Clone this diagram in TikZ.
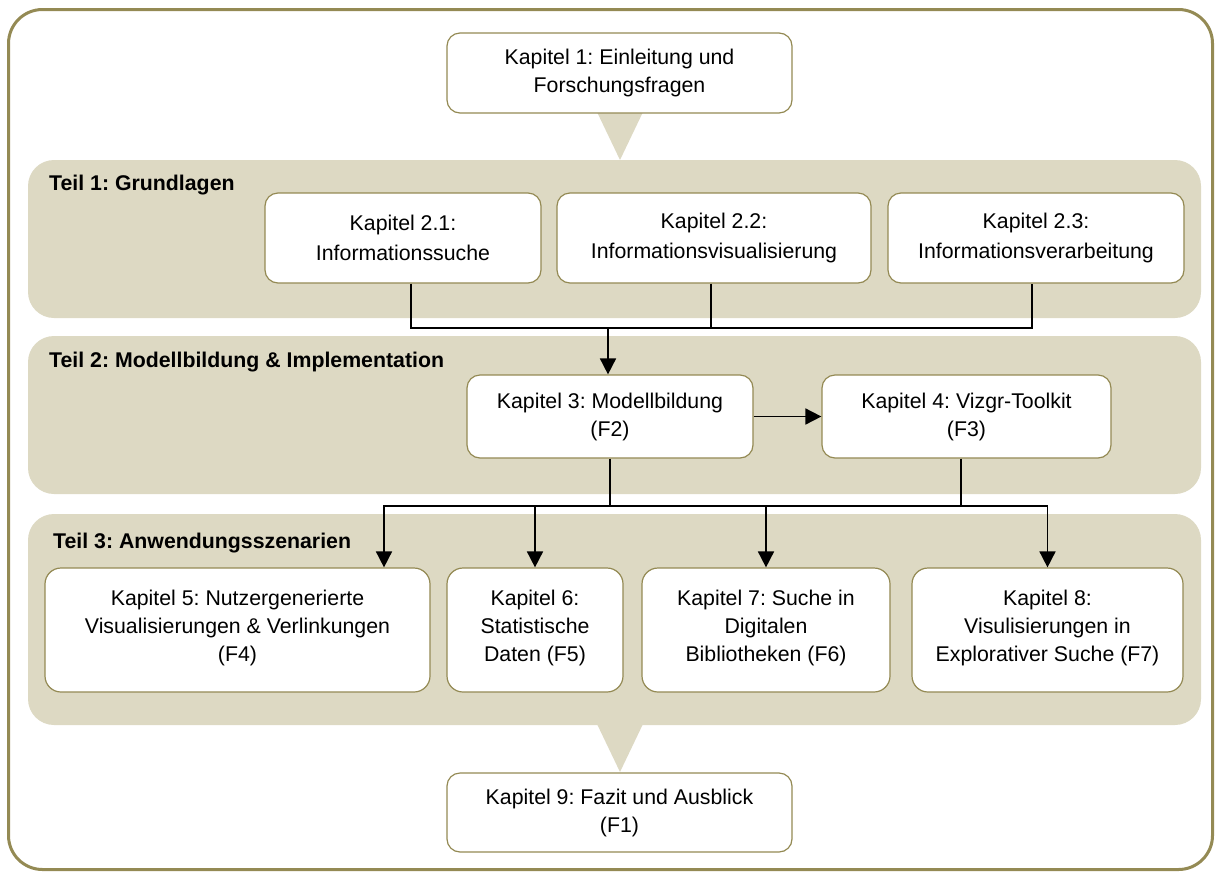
\documentclass[tikz,border=0pt]{standalone}
\usepackage{fontspec}
\setmainfont{Liberation Sans}
\usetikzlibrary{arrows.meta}
\definecolor{tan}{HTML}{DDD9C3}
\definecolor{olive}{HTML}{948A54}
\frenchspacing

\begin{document}
\begin{tikzpicture}[x=1pt, y=-1pt,
  chapter/.style={draw=olive, line width=1.2pt, fill=white, rounded corners=13pt,
    align=center, inner sep=0pt, font=\fontsize{21.3}{28}\selectfont},
  wide/.style={font=\fontsize{21.3}{29.5}\selectfont},
  band/.style={fill=tan, rounded corners=26pt},
  parttitle/.style={anchor=west, inner sep=0pt, font=\fontsize{21.3}{26}\selectfont\bfseries},
  link/.style={line width=1.7pt},
  flow/.style={link, -{Triangle[length=16pt, width=16pt]}},
  pointer/.style={fill=tan}]

\useasboundingbox (0,0) rectangle (1216,871);

% outer frame
\draw[olive, line width=3pt, rounded corners=34pt] (8.5,9.5) rectangle (1212.5,869.5);

% the three parts
\fill[band] (28,160) rectangle (1201,318);
\fill[band] (28,336) rectangle (1201,494);
\fill[band] (28,514) rectangle (1201,725);

% pointers into and out of the parts
\fill[pointer] (597,112) -- (643,112) -- (620,160) -- cycle;
\fill[pointer] (597,724) -- (643,724) -- (620,772) -- cycle;

\node[parttitle] (t1) at (49,185) {Teil 1: Grundlagen};
\node[parttitle] (t2) at (49,362) {Teil 2: Modellbildung \& Implementation};
\node[parttitle] (t3) at (53,543) {Teil 3: Anwendungsszenarien};

% chapters
\node[chapter, minimum width=345pt, minimum height=80pt] (k1) at (619.5,73)
  {Kapitel 1: Einleitung und\\Forschungsfragen};

\node[chapter, wide, minimum width=276pt, minimum height=90pt] (k21) at (403,238)
  {Kapitel 2.1:\\Informationssuche};
\node[chapter, wide, minimum width=314pt, minimum height=90pt] (k22) at (714,238)
  {Kapitel 2.2:\\Informationsvisualisierung};
\node[chapter, wide, minimum width=296pt, minimum height=90pt] (k23) at (1036,238)
  {Kapitel 2.3:\\Informationsverarbeitung};

\node[chapter, minimum width=286pt, minimum height=83pt] (k3) at (610,416.5)
  {Kapitel 3: Modellbildung\\(F2)};
\node[chapter, minimum width=289pt, minimum height=83pt] (k4) at (966.5,416.5)
  {Kapitel 4: Vizgr-Toolkit\\(F3)};

\node[chapter, rounded corners=16pt, minimum width=385pt, minimum height=124pt] (k5) at (237.5,630)
  {Kapitel 5: Nutzergenerierte\\Visualisierungen \& Verlinkungen\\(F4)\\[-20pt]};
\node[chapter, rounded corners=16pt, minimum width=176pt, minimum height=124pt] (k6) at (535,630)
  {Kapitel 6:\\Statistische\\Daten (F5)\\[-20pt]};
\node[chapter, rounded corners=16pt, minimum width=248pt, minimum height=124pt] (k7) at (766,630)
  {Kapitel 7: Suche in\\Digitalen\\Bibliotheken (F6)\\[-20pt]};
\node[chapter, rounded corners=16pt, minimum width=271pt, minimum height=124pt] (k8) at (1047.5,630)
  {Kapitel 8:\\Visulisierungen in\\Explorativer Suche (F7)\\[-20pt]};

\node[chapter, minimum width=345pt, minimum height=79pt] (k9) at (619.5,812.5)
  {Kapitel 9: Fazit und Ausblick\\(F1)};

% Teil 1 -> Kapitel 3
\coordinate (bus1) at (608,328);
\draw[link] ([xshift=8pt]k21.south) |- (bus1) -| ([xshift=-4pt]k23.south);
\draw[link] ([xshift=-3pt]k22.south) -- ([xshift=-3pt]k22.south |- bus1);
\draw[flow] (bus1) -- (bus1 |- k3.north);

% Kapitel 3 -> Kapitel 4
\draw[flow] (k3.east) -- (k4.west);

% Teil 2 -> Teil 3
\coordinate (bus2) at (610,506);
\draw[link] (k3.south) -- (bus2);
\draw[link] ([xshift=-5.5pt]k4.south) -- ([xshift=-5.5pt]k4.south |- bus2);
\draw[flow] (bus2) -| ([xshift=146.5pt]k5.north);
\draw[flow] (bus2) -| (k8.north);
\draw[flow] (k6.north |- bus2) -- (k6.north);
\draw[flow] (k7.north |- bus2) -- (k7.north);
\end{tikzpicture}
\end{document}
